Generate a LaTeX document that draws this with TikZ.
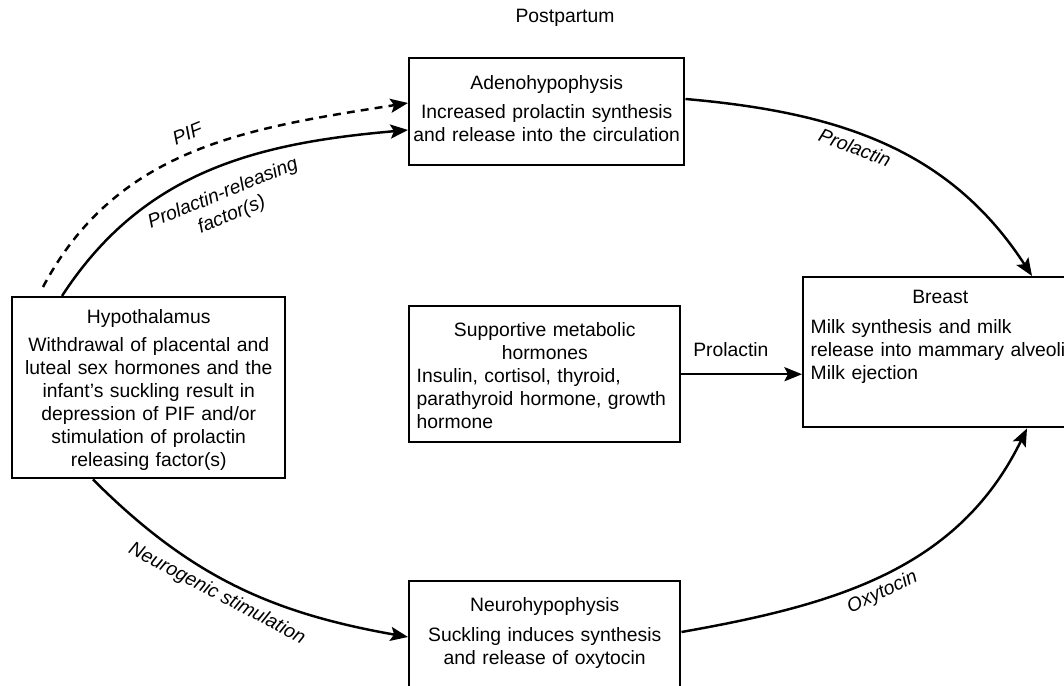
\documentclass[tikz,border=0pt]{standalone}
\usepackage{fontspec}
\setmainfont{Liberation Sans}
\usetikzlibrary{arrows.meta,calc,positioning}

\newcommand{\ttl}[1]{\makebox[\linewidth]{#1}}

\begin{document}
\begin{tikzpicture}[
  every node/.style={font=\fontsize{11}{13.1}\selectfont},
  box/.style={draw,line width=1.4pt,anchor=north west,inner ysep=0.2cm},
  cbox/.style={box,align=center,inner xsep=-0.1cm},
  lbox/.style={box,align=left,inner xsep=0.15cm},
  edge/.style={-{Stealth[length=10pt,width=8pt,inset=2pt]},line width=1.4pt},
  lbl/.style={font=\fontsize{11}{13.1}\selectfont\itshape,align=center,sloped}
]
\useasboundingbox (0,0) rectangle (21.28,13.72);
% Boxes
\node[cbox,text width=5.7cm,text height=0.43cm,text depth=1.31cm] (adeno) at (8.16,12.58)
  {Adenohypophysis\\[3pt] Increased prolactin synthesis\\ and release into the circulation};
\node[cbox,text width=5.66cm,text height=0.33cm,text depth=2.89cm] (hypo) at (0.22,7.8)
  {Hypothalamus\\[2.5pt] Withdrawal of placental and\\ luteal sex hormones and the\\
   infant's suckling result in\\ depression of PIF and/or\\ stimulation of prolactin\\ releasing factor(s)};
\node[lbox,text width=5.12cm,text height=0.41cm,text depth=1.91cm] (supp) at (8.16,7.62)
  {\ttl{Supportive metabolic}\\ \ttl{hormones}\\ Insulin, cortisol, thyroid,\\
   parathyroid hormone, growth\\ hormone};
\node[lbox,text width=5.18cm,text height=0.33cm,text depth=2.27cm] (breast) at (16.04,8.2)
  {\ttl{Breast}\\[4pt] Milk synthesis and milk\\ release into mammary alveoli\\ Milk ejection};
\node[cbox,text width=5.62cm,text height=0.41cm,text depth=1.79cm] (neuro) at (8.16,2.12)
  {Neurohypophysis\\[4pt] Suckling induces synthesis\\ and release of oxytocin};
\node (post) at (11.3,13.36) {Postpartum};
% Hypothalamus -> adenohypophysis
\draw[edge,dashed,dash pattern=on 4.5pt off 3.5pt] ([xshift=0.64cm,yshift=0.18cm]hypo.north west)
  to[out=62,in=189] node[lbl,above=3pt,pos=0.5] (lpif) {PIF} ([yshift=-0.92cm]adeno.north west);
\draw[edge] ([xshift=1.02cm]hypo.north west) to[out=57,in=185]
  node[lbl,below=6pt,pos=0.51] (lprf) {Prolactin-releasing\\factor(s)} ([yshift=-1.46cm]adeno.north west);
% Adenohypophysis -> breast
\draw[edge] ([yshift=-0.84cm]adeno.north east) to[out=-5,in=123]
  node[lbl,below=0pt,pos=0.43] (lprl) {Prolactin} ([xshift=4.6cm]breast.north west);
% Supportive hormones -> breast
\draw[edge] (supp.east) -- (supp.east -| breast.west) node[pos=0.41,above=6pt] (lsup) {Prolactin};
% Hypothalamus -> neurohypophysis -> breast
\draw[edge] ([xshift=1.64cm]hypo.south west) to[out=-45,in=170]
  node[lbl,below,pos=0.46] (lneu) {Neurogenic stimulation} ([yshift=-1.14cm]neuro.north west);
\draw[edge] ([yshift=-1.04cm]neuro.north east) to[out=10,in=-116]
  node[lbl,below,pos=0.47] (loxy) {Oxytocin} ([xshift=4.5cm]breast.south west);
\end{tikzpicture}
\end{document}
